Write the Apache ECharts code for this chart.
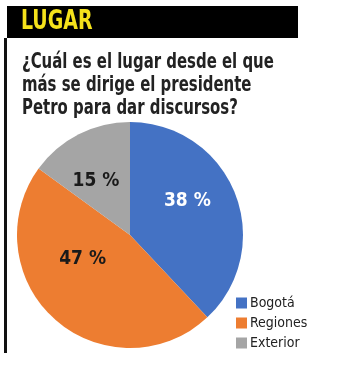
<!DOCTYPE html>
<html>
<head>
<meta charset="utf-8">
<script src="https://cdn.jsdelivr.net/npm/echarts@6/dist/echarts.min.js"></script>
<style>
  html, body { margin: 0; padding: 0; background: #fff; }
  #chart { width: 350px; height: 389px; }
</style>
</head>
<body>
<div id="chart"></div>
<script>
  // data
  const categories = ["Bogotá", "Regiones", "Exterior"];
  const values = [38, 47, 15];
  const colors = ["#4472c4", "#ed7d31", "#a5a5a5"];
  const labelColors = ["#ffffff", "#1a1a1a", "#1a1a1a"];
  const labelOffsets = [[2, -12], [-8, -21], [-7, -1]];

  const FONT = '"Liberation Sans Narrow", "DejaVu Sans Condensed", sans-serif';
  const heading = "LUGAR";
  const question = "¿Cuál es el lugar desde el que\nmás se dirige el presidente\nPetro para dar discursos?";

  const chart = echarts.init(document.getElementById("chart"));

  chart.setOption({
    animation: false,
    color: colors,
    graphic: [
      // black header band
      { type: "rect", shape: { x: 7, y: 6, width: 291, height: 32 }, style: { fill: "#000" } },
      { type: "text", x: 21, y: 8, scaleX: 0.78,
        style: { x: 0, y: 0, text: heading, fill: "#f5e21b", font: "bold 27px " + FONT } },
      // left rule
      { type: "rect", shape: { x: 4, y: 38, width: 3, height: 315 }, style: { fill: "#111" } },
      // question, squeezed to look like the condensed face of the original
      { type: "text", x: 22, y: 51, scaleX: 0.79,
        style: { x: 0, y: 0, text: question, fill: "#222", font: "bold 21px " + FONT, lineHeight: 23 } }
    ],
    legend: {
      orient: "vertical",
      left: 231, top: 291,
      itemWidth: 11, itemHeight: 11, itemGap: 6,
      icon: "rect",
      textStyle: { fontFamily: FONT, fontSize: 14, color: "#222", padding: [0, 0, 0, -2] },
      data: categories
    },
    series: [{
      type: "pie",
      center: [130, 235],
      radius: 113,
      startAngle: 90,
      clockwise: true,
      silent: true,
      label: {
        position: "inside",
        formatter: "{c} %",
        fontFamily: FONT, fontWeight: "bold", fontSize: 19
      },
      labelLine: { show: false },
      data: categories.map((name, i) => ({
        name: name,
        value: values[i],
        label: { color: labelColors[i], offset: labelOffsets[i] }
      }))
    }]
  });
</script>
</body>
</html>
